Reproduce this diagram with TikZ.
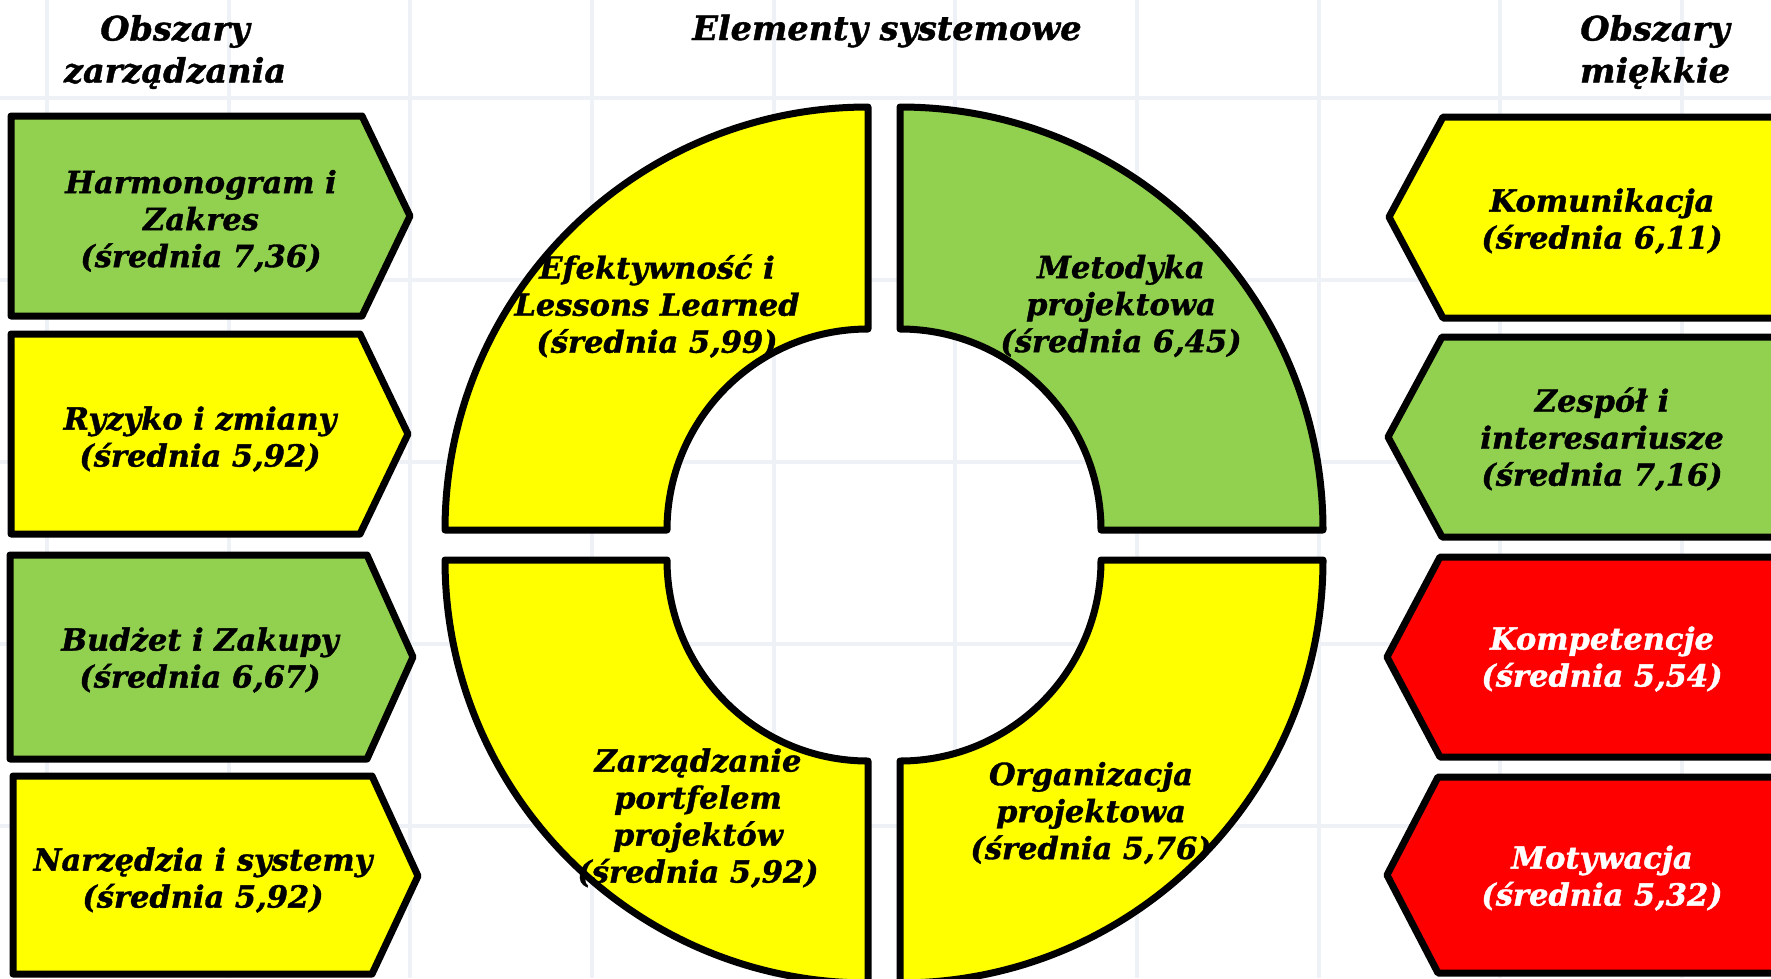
\documentclass[tikz,border=0pt]{standalone}
\usepackage{fontspec}
\setmainfont{DejaVu Serif}[BoldItalicFeatures={FakeBold=1.2}]
\definecolor{okgreen}{RGB}{146,208,80}
\definecolor{midyellow}{RGB}{255,255,0}
\definecolor{lowred}{RGB}{255,0,0}
\definecolor{gridline}{RGB}{238,242,247}
\begin{document}
\begin{tikzpicture}[x=1pt,y=-1pt,
  shapeline/.style={draw=black,line width=7pt,line join=round},
  txt/.style={font=\fontsize{30.5}{37}\selectfont\bfseries\itshape,align=center,inner sep=0pt},
  heading/.style={font=\fontsize{33.5}{42}\selectfont\bfseries\itshape,align=center,inner sep=0pt},
  gridstroke/.style={draw=gridline,line width=3.5pt}]

\path[use as bounding box] (0,0) rectangle (1771,978);
\clip (0,0) rectangle (1771,978);
\fill[white] (0,0) rectangle (1771,978);

% faint background grid
\foreach \gx in {47,229,410,592,774,955,1137,1319,1500,1682}
  \draw[gridstroke] (\gx,0) -- (\gx,978);
\foreach \gy in {98,280,462,644,826}
  \draw[gridstroke] (0,\gy) -- (1771,\gy);

% headings
\node[heading] (hleft)  at (175,52)  {Obszary\\zarządzania};
\node[heading] (hmid)   at (887,31)  {Elementy systemowe};
\node[heading] (hright) at (1655,52) {Obszary\\miękkie};

% management areas: arrows pointing right
\draw[shapeline,fill=okgreen]   (11,116) -- (362,116) -- (410,216) -- (362,316) -- (11,316) -- cycle;
\draw[shapeline,fill=midyellow] (11,334) -- (360,334) -- (408,434) -- (360,534) -- (11,534) -- cycle;
\draw[shapeline,fill=okgreen]   (10,555) -- (367,555) -- (413,657) -- (367,759) -- (10,759) -- cycle;
\draw[shapeline,fill=midyellow] (13,776) -- (372,776) -- (418,876) -- (372,974) -- (13,974) -- cycle;

\node[txt] (harm) at (201,221) {Harmonogram i\\Zakres\\(średnia 7,36)};
\node[txt] (ryz)  at (200,439) {Ryzyko i zmiany\\(średnia 5,92)};
\node[txt] (bud)  at (200,660) {Budżet i Zakupy\\(średnia 6,67)};
\node[txt] (narz) at (203,880) {Narzędzia i systemy\\(średnia 5,92)};

% soft areas: arrows pointing left
\draw[shapeline,fill=midyellow] (1800,117) -- (1443,117) -- (1389,217) -- (1443,318) -- (1800,318) -- cycle;
\draw[shapeline,fill=okgreen]   (1800,337) -- (1442,337) -- (1388,437) -- (1442,537) -- (1800,537) -- cycle;
\draw[shapeline,fill=lowred]    (1800,557) -- (1440,557) -- (1387,657) -- (1440,757) -- (1800,757) -- cycle;
\draw[shapeline,fill=lowred]    (1800,777) -- (1438,777) -- (1387,875) -- (1438,973) -- (1800,973) -- cycle;

\node[txt] (kom)  at (1602,221) {Komunikacja\\(średnia 6,11)};
\node[txt] (zesp) at (1602,439) {Zespół i\\interesariusze\\(średnia 7,16)};
\node[txt,text=white] (komp) at (1602,659) {Kompetencje\\(średnia 5,54)};
\node[txt,text=white] (mot)  at (1602,878) {Motywacja\\(średnia 5,32)};

% system elements: ring of four quadrants
\draw[shapeline,fill=midyellow] (868,107) arc[start angle=-90,end angle=-180,radius=423]
  -- (667,530) arc[start angle=180,end angle=270,radius=201] -- cycle;
\draw[shapeline,fill=okgreen] (900,107) arc[start angle=-90,end angle=0,radius=423]
  -- (1101,530) arc[start angle=0,end angle=-90,radius=201] -- cycle;
\draw[shapeline,fill=midyellow] (445,560) arc[start angle=180,end angle=90,radius=423]
  -- (868,761) arc[start angle=90,end angle=180,radius=201] -- cycle;
\draw[shapeline,fill=midyellow] (1323,560) arc[start angle=0,end angle=90,radius=423]
  -- (900,761) arc[start angle=90,end angle=0,radius=201] -- cycle;

\node[txt] (efek) at (657,306)  {Efektywność i\\Lessons Learned\\(średnia 5,99)};
\node[txt] (meto) at (1121,306) {Metodyka\\projektowa\\(średnia 6,45)};
\node[txt] (zarz) at (698,818)  {Zarządzanie\\portfelem\\projektów\\(średnia 5,92)};
\node[txt] (orga) at (1091,813) {Organizacja\\projektowa\\(średnia 5,76)};
\end{tikzpicture}
\end{document}
